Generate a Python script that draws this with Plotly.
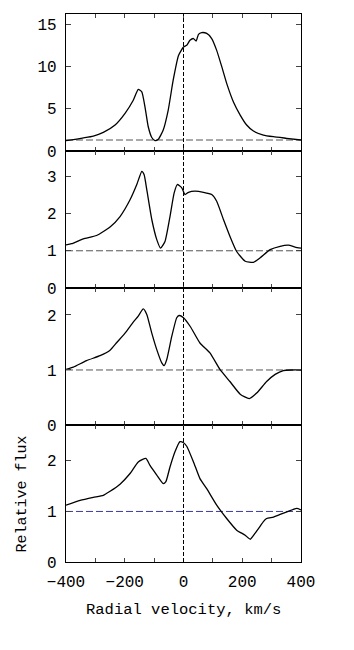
import plotly.graph_objects as go
from plotly.subplots import make_subplots

# Panel 1
v1 = [-400, -307, -273, -233, -199, -171, -154, -142, -131, -120, -108, -97, -86, -69, -52, -35, -17, 0, 11, 22, 34, 43, 51, 62, 79, 96, 113, 130, 147, 170, 193, 215, 238, 272, 306, 351, 400]
f1 = [1.22, 1.77, 2.2, 3.07, 4.45, 6.0, 7.28, 7.0, 5.2, 2.87, 1.6, 1.22, 1.38, 2.48, 4.84, 8.4, 11.3, 12.3, 12.5, 13.1, 13.3, 13.0, 13.8, 14.0, 13.9, 13.3, 11.9, 10.0, 8.0, 5.8, 4.25, 3.07, 2.36, 1.89, 1.69, 1.5, 1.3]
# Panel 2
v2 = [-400, -381, -341, -296, -250, -216, -182, -159, -142, -134, -125, -108, -91, -78, -63, -46, -32, -21, -6, 5, 17, 39, 68, 96, 113, 136, 158, 181, 210, 238, 261, 295, 329, 357, 380, 400]
f2 = [1.16, 1.19, 1.32, 1.41, 1.64, 1.92, 2.37, 2.78, 3.13, 3.04, 2.64, 1.84, 1.30, 1.07, 1.25, 1.92, 2.55, 2.78, 2.69, 2.51, 2.57, 2.60, 2.57, 2.51, 2.33, 1.84, 1.39, 0.98, 0.72, 0.69, 0.81, 1.03, 1.12, 1.15, 1.10, 1.07]
# Panel 3
v3 = [-400, -375, -330, -284, -250, -227, -199, -171, -154, -137, -125, -108, -91, -74, -66, -57, -40, -23, -15, 0, 23, 56, 90, 124, 158, 193, 224, 249, 283, 312, 340, 370, 400]
f3 = [1.01, 1.05, 1.17, 1.26, 1.36, 1.50, 1.67, 1.87, 1.98, 2.11, 2.01, 1.67, 1.37, 1.13, 1.08, 1.19, 1.61, 1.95, 1.99, 1.95, 1.79, 1.49, 1.31, 1.01, 0.79, 0.56, 0.48, 0.58, 0.79, 0.92, 0.99, 1.0, 1.0]
# Panel 4
v4 = [-400, -352, -307, -273, -250, -216, -182, -154, -128, -114, -91, -69, -60, -46, -29, -12, 0, 11, 34, 56, 79, 113, 147, 181, 210, 227, 244, 260, 272, 283, 306, 329, 352, 385, 400]
f4 = [1.125, 1.22, 1.28, 1.32, 1.40, 1.54, 1.75, 1.98, 2.05, 1.91, 1.72, 1.55, 1.59, 1.88, 2.18, 2.38, 2.36, 2.29, 1.98, 1.65, 1.45, 1.125, 0.86, 0.63, 0.53, 0.45, 0.57, 0.70, 0.80, 0.86, 0.89, 0.94, 0.99, 1.06, 1.03]

continuum = [1.3, 1.0, 1.0, 1.0]
continuum_colors = ["#555555", "#555555", "#555555", "#3a3aa0"]
y_ranges = [[0, 16.2], [0, 3.68], [0, 2.49], [0, 2.71]]
y_ticks = [[0, 5, 10, 15], [0, 1, 2, 3], [0, 1, 2], [0, 1, 2]]
x_tickvals = [-400, -300, -200, -100, 0, 100, 200, 300, 400]
x_ticktext = ["\u2212400", "", "\u2212200", "", "0", "", "200", "", "400"]

FONT = "Liberation Mono"

fig = make_subplots(rows=4, cols=1, shared_xaxes=True, vertical_spacing=0)

series = [(v1, f1), (v2, f2), (v3, f3), (v4, f4)]
for i, (v, f) in enumerate(series):
    r = i + 1
    fig.add_trace(go.Scatter(x=[-400, 400], y=[continuum[i]] * 2, mode="lines",
                             line=dict(color=continuum_colors[i], width=1, dash="7px,3px"),
                             showlegend=False, hoverinfo="skip"), row=r, col=1)
    fig.add_trace(go.Scatter(x=v, y=f, mode="lines",
                             line=dict(color="black", width=1.3, shape="spline", smoothing=0.5),
                             showlegend=False), row=r, col=1)
    fig.update_yaxes(range=y_ranges[i], tickvals=y_ticks[i], row=r, col=1)

fig.update_xaxes(range=[-400, 400], tickvals=x_tickvals, ticktext=x_ticktext, ticks="inside",
                 ticklen=4, tickwidth=1, showline=True, mirror="allticks", linecolor="black",
                 linewidth=1, showgrid=False, zeroline=False, showticklabels=False)
fig.update_xaxes(showticklabels=True, ticklabelstandoff=5, row=4, col=1)
fig.update_yaxes(ticks="inside", ticklen=5, tickwidth=1, showline=True, mirror="allticks",
                 linecolor="black", linewidth=1.2, showgrid=False, zeroline=False,
                 ticklabelstandoff=5)

fig.add_shape(type="line", xref="x", yref="paper", x0=0, x1=0, y0=0, y1=1,
              line=dict(color="black", width=1, dash="4px,2px"))

fig.add_annotation(text="Relative flux", xref="paper", yref="y4 domain", x=-0.183, y=0.5,
                   textangle=-90, showarrow=False, xanchor="center", yanchor="middle",
                   font=dict(family=FONT, size=15, color="black"))
fig.add_annotation(text="Radial velocity, km/s", xref="paper", yref="paper", x=0.5, y=-0.0876,
                   showarrow=False, xanchor="center", yanchor="middle",
                   font=dict(family=FONT, size=15.5, color="black"))

fig.update_layout(width=354, height=650, margin=dict(l=66, r=53, t=14, b=88),
                  paper_bgcolor="white", plot_bgcolor="white",
                  font=dict(family=FONT, size=16, color="black"))

fig.write_html("out.html", config={"displayModeBar": False},
               post_script="document.body.style.margin='0';")
